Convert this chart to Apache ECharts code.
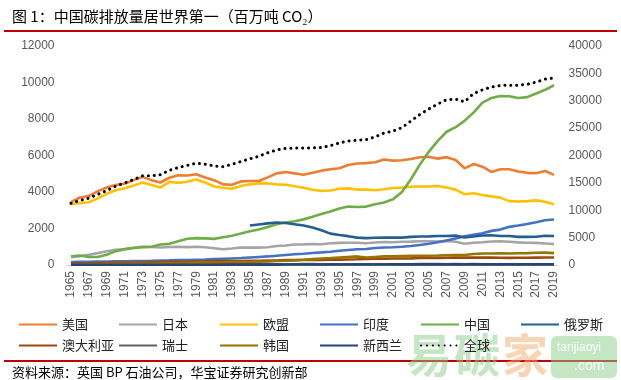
<!DOCTYPE html>
<html><head><meta charset="utf-8">
<script src="https://cdn.jsdelivr.net/npm/echarts@6/dist/echarts.min.js"></script>
<style>html,body{margin:0;padding:0;background:#fff}#c{width:621px;height:380px}</style>
</head><body><div id="c"></div>
<script>
var years = [];
for (var y = 1965; y <= 2019; y++) years.push(String(y));

var usa = [3450,3700,3780,4050,4250,4380,4450,4650,4830,4650,4520,4780,4920,4900,4970,4800,4650,4420,4400,4580,4600,4600,4800,5020,5100,5020,4950,5050,5170,5250,5300,5480,5560,5580,5630,5780,5720,5740,5810,5900,5930,5830,5910,5750,5300,5530,5390,5100,5250,5250,5120,5050,5030,5150,4940];
var japan = [430,480,560,650,750,830,860,940,1000,990,960,990,1000,980,1000,970,920,860,900,960,950,950,970,1040,1070,1120,1130,1150,1140,1190,1210,1220,1220,1190,1230,1260,1250,1270,1280,1300,1300,1290,1320,1270,1160,1220,1250,1290,1300,1270,1240,1220,1210,1180,1150];
var eu = [3330,3400,3440,3650,3900,4100,4200,4350,4520,4380,4250,4560,4500,4560,4680,4520,4300,4230,4180,4330,4420,4470,4480,4420,4400,4320,4230,4120,4060,4080,4180,4200,4130,4130,4100,4150,4220,4240,4290,4300,4300,4330,4250,4130,3880,3930,3840,3760,3690,3500,3480,3500,3540,3470,3330];
var india = [165,170,175,185,195,200,205,215,220,230,245,255,270,275,290,300,320,340,360,380,410,440,470,510,550,590,620,660,690,730,780,820,860,880,930,960,970,1000,1040,1100,1160,1250,1340,1450,1580,1660,1740,1870,1940,2090,2160,2250,2340,2450,2490];
var china = [480,520,440,440,560,760,870,930,980,1000,1120,1160,1300,1440,1470,1460,1430,1520,1600,1720,1850,1950,2080,2230,2330,2400,2500,2640,2800,2930,3100,3200,3180,3200,3330,3420,3600,4000,4700,5500,6200,6800,7300,7550,7900,8350,8900,9150,9260,9250,9150,9200,9400,9600,9850];
var russia = [null,null,null,null,null,null,null,null,null,null,null,null,null,null,null,null,null,null,null,null,2160,2220,2280,2330,2300,2230,2160,2050,1900,1720,1640,1580,1500,1470,1490,1500,1510,1500,1540,1560,1570,1590,1590,1610,1510,1560,1620,1630,1590,1590,1540,1540,1550,1600,1590];
var australia = [90,95,100,110,115,130,135,140,150,160,160,170,180,185,195,205,210,215,210,220,225,230,240,250,265,270,270,275,280,285,295,305,315,330,340,345,355,360,365,380,385,390,400,405,410,405,405,405,395,390,395,400,405,410,415];
var swiss = [30,33,35,38,41,44,45,46,47,44,42,43,44,45,43,42,41,40,42,42,43,44,43,42,42,44,46,46,44,43,43,45,44,45,45,44,45,44,45,46,46,46,44,46,45,46,43,44,45,41,40,40,39,38,38];
var korea = [20,25,30,40,50,60,65,70,80,85,90,100,110,125,135,135,140,145,155,165,175,185,195,220,235,255,285,320,355,380,410,440,470,410,440,470,480,490,500,510,510,520,535,540,545,600,630,630,640,630,640,650,670,680,650];
var nz = [12,12,13,13,14,15,15,16,17,17,17,17,17,17,17,17,17,18,19,20,21,22,23,23,24,24,25,26,26,26,26,27,29,28,29,30,32,33,34,34,35,35,34,35,32,32,32,33,33,33,33,32,33,33,34];
var world = [11270,11800,12200,12900,13600,14400,15000,15600,16300,16300,16500,17300,17800,18200,18600,18400,18100,17950,18400,18900,19400,19850,20500,21000,21300,21350,21350,21400,21450,21800,22300,22650,22800,22900,23400,24100,24450,25100,26300,27500,28500,29400,30200,30300,29800,31300,32000,32500,32800,32850,32850,33000,33400,33950,34150];

var names = ['美国','日本','欧盟','印度','中国','俄罗斯','澳大利亚','瑞士','韩国','新西兰','全球'];
var colors = ['#ED7D31','#A5A5A5','#FFC000','#4472C4','#70AD47','#255E91','#9E480E','#636363','#997300','#264478','#000000'];
var datas = [usa,japan,eu,india,china,russia,australia,swiss,korea,nz,world];

var legendX = [18,118,219,319,420,520];
var legendY = [318,339];

var series = names.map(function(n,i){
  var isWorld = (n === '全球');
  return {
    name: n, type: 'line', data: datas[i], yAxisIndex: isWorld ? 1 : 0,
    symbol: 'none', smooth: false, connectNulls: false,
    lineStyle: isWorld ? {color:'#000', width: 3, type: [0.1, 5.8], cap: 'round'} : {color: colors[i], width: 2.6},
    itemStyle: {color: colors[i]},
    z: 2 + i
  };
});

var legends = names.map(function(n,i){
  return {
    data: [n], left: legendX[i % 6], top: legendY[Math.floor(i / 6)],
    padding: 0, itemWidth: 38, itemHeight: 14, itemGap: 5,
    itemStyle: {opacity: 0},
    textStyle: {fontSize: 13, color: '#222', fontFamily: 'Noto Sans CJK SC', padding: [0,0,0,0]},
    selectedMode: false
  };
});

function plain(v){ return String(v); }

var chart = echarts.init(document.getElementById('c'), null, {renderer: 'canvas'});
chart.setOption({
  animation: false,
  backgroundColor: '#fff',
  color: colors,
  grid: {left: 66.5, right: 62.5, top: 46, bottom: 115, containLabel: false},
  legend: legends,
  xAxis: {
    type: 'category', data: years, boundaryGap: true,
    axisLine: {show: true, lineStyle: {color: '#D9D9D9', width: 1}},
    axisTick: {show: false},
    axisLabel: {interval: 1, rotate: 90, color: '#595959', fontSize: 12, margin: 6, fontFamily: 'Liberation Sans'}
  },
  yAxis: [
    {type: 'value', min: 0, max: 12000, interval: 2000, position: 'left',
     axisLine: {show: false}, axisTick: {show: false}, splitLine: {show: false},
     axisLabel: {color: '#595959', fontSize: 12, margin: 12, fontFamily: 'Liberation Sans', formatter: plain}},
    {type: 'value', min: 0, max: 40000, interval: 5000, position: 'right',
     axisLine: {show: false}, axisTick: {show: false}, splitLine: {show: false},
     axisLabel: {color: '#595959', fontSize: 12, margin: 10, fontFamily: 'Liberation Sans', formatter: plain}}
  ],
  series: series,
  graphic: [
    {type: 'text', left: 12, top: 9, style: {text: '图 1：中国碳排放量居世界第一（百万吨 CO₂）', fontSize: 15, fill: '#000', fontFamily: 'Noto Sans CJK SC'}},
    {type: 'rect', shape: {x: 4, y: 30, width: 613, height: 2}, style: {fill: '#C00000'}},
    {type: 'rect', shape: {x: 4, y: 360, width: 613, height: 2}, style: {fill: '#C00000'}},
    {type: 'text', left: 12, top: 366, style: {text: '资料来源：英国 BP 石油公司，华宝证券研究创新部', fontSize: 13, fill: '#000', fontFamily: 'Noto Sans CJK SC'}},
    {type: 'group', z: 100, children: [
      {type: 'text', x: 406, y: 332, style: {text: '易', fontSize: 46, fontWeight: 'bold', fill: 'rgba(140,205,135,0.5)', fontFamily: 'Noto Sans CJK SC'}},
      {type: 'text', x: 454, y: 332, style: {text: '碳', fontSize: 46, fontWeight: 'bold', fill: 'rgba(140,205,135,0.5)', fontFamily: 'Noto Sans CJK SC'}},
      {type: 'text', x: 502, y: 332, style: {text: '家', fontSize: 46, fontWeight: 'bold', fill: 'rgba(245,170,110,0.5)', fontFamily: 'Noto Sans CJK SC'}},
      {type: 'rect', shape: {x: 551, y: 336, width: 66, height: 42, r: 6}, style: {fill: 'rgba(140,205,135,0.5)'}},
      {type: 'text', x: 557, y: 342, style: {text: 'tanjiaoyi', fontSize: 12, fill: '#fff', fontFamily: 'Liberation Sans'}},
      {type: 'text', x: 574, y: 359, style: {text: '.com', fontSize: 14, fill: '#fff', fontFamily: 'Liberation Sans'}}
    ]}
  ]
});
</script></body></html>
